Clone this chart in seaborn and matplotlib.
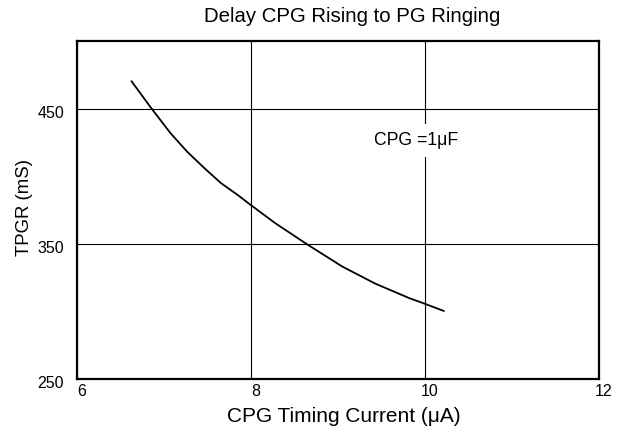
import matplotlib
matplotlib.use("Agg")
import matplotlib.pyplot as plt
import matplotlib.transforms as mtransforms
import seaborn as sns
import pandas as pd

# Data
current_ua = [6.63, 6.86, 7.08, 7.27, 7.47, 7.66, 7.85, 8.0, 8.28, 8.64, 9.05, 9.43, 9.82, 10.0, 10.22]
tpgr_ms = [470.3, 450.1, 431.7, 418.1, 405.8, 394.8, 386.1, 378.7, 365.3, 349.9, 333.2, 320.5, 309.8, 305.6, 300.2]
x_ticks = [6, 8, 10, 12]
y_ticks = [250, 350, 450]

sns.set_theme(style="white")
plt.rcParams['font.family'] = ['Liberation Sans', 'DejaVu Sans']

df = pd.DataFrame({"I": current_ua, "T": tpgr_ms})

fig = plt.figure(figsize=(6.18, 4.32), dpi=100)
ax = fig.add_axes([0.124, 0.123, 0.845, 0.782])

sns.lineplot(data=df, x="I", y="T", ax=ax, color="black", linewidth=1.3, sort=False)
ax.lines[0].set_solid_joinstyle("round")

ax.set_xlim(6, 12)
ax.set_ylim(250, 500)
ax.set_xticks(x_ticks)
ax.set_yticks(y_ticks)
ax.set_xticklabels([str(v) for v in x_ticks])
ax.set_yticklabels([str(v) for v in y_ticks])
ax.grid(True, color="black", linewidth=0.8)
ax.set_axisbelow(True)
for s in ax.spines.values():
    s.set_color("black")
    s.set_linewidth(1.6)
ax.tick_params(axis="both", length=0, labelsize=11.5, colors="black")
ax.tick_params(axis="x", pad=4)
ax.tick_params(axis="y", pad=9)

dx = mtransforms.ScaledTranslation(5 / 100, 0, fig.dpi_scale_trans)
for lbl in ax.get_xticklabels():
    lbl.set_transform(lbl.get_transform() + dx)
dy = mtransforms.ScaledTranslation(0, -3 / 100, fig.dpi_scale_trans)
for lbl in ax.get_yticklabels():
    lbl.set_transform(lbl.get_transform() + dy)

ax.set_xlabel("")
ax.set_ylabel("")
fig.text(344 / 618, 1 - 416 / 432, "CPG Timing Current (\u03bcA)", ha="center", va="center",
         fontsize=15, color="black")
fig.text(24.5 / 618, 1 - 208 / 432, "TPGR (mS)", ha="center", va="center", rotation=90,
         fontsize=13.4, color="black")
fig.text(352 / 618, 1 - 17 / 432, "Delay CPG Rising to PG Ringing", ha="center", va="center",
         fontsize=14.7, color="black")

ax.text(9.42, 426.5, "CPG =1\u03bcF", ha="left", va="center", fontsize=12.7, color="black",
        bbox=dict(facecolor="white", edgecolor="none", pad=6))

fig.savefig("out.png", dpi=100)
